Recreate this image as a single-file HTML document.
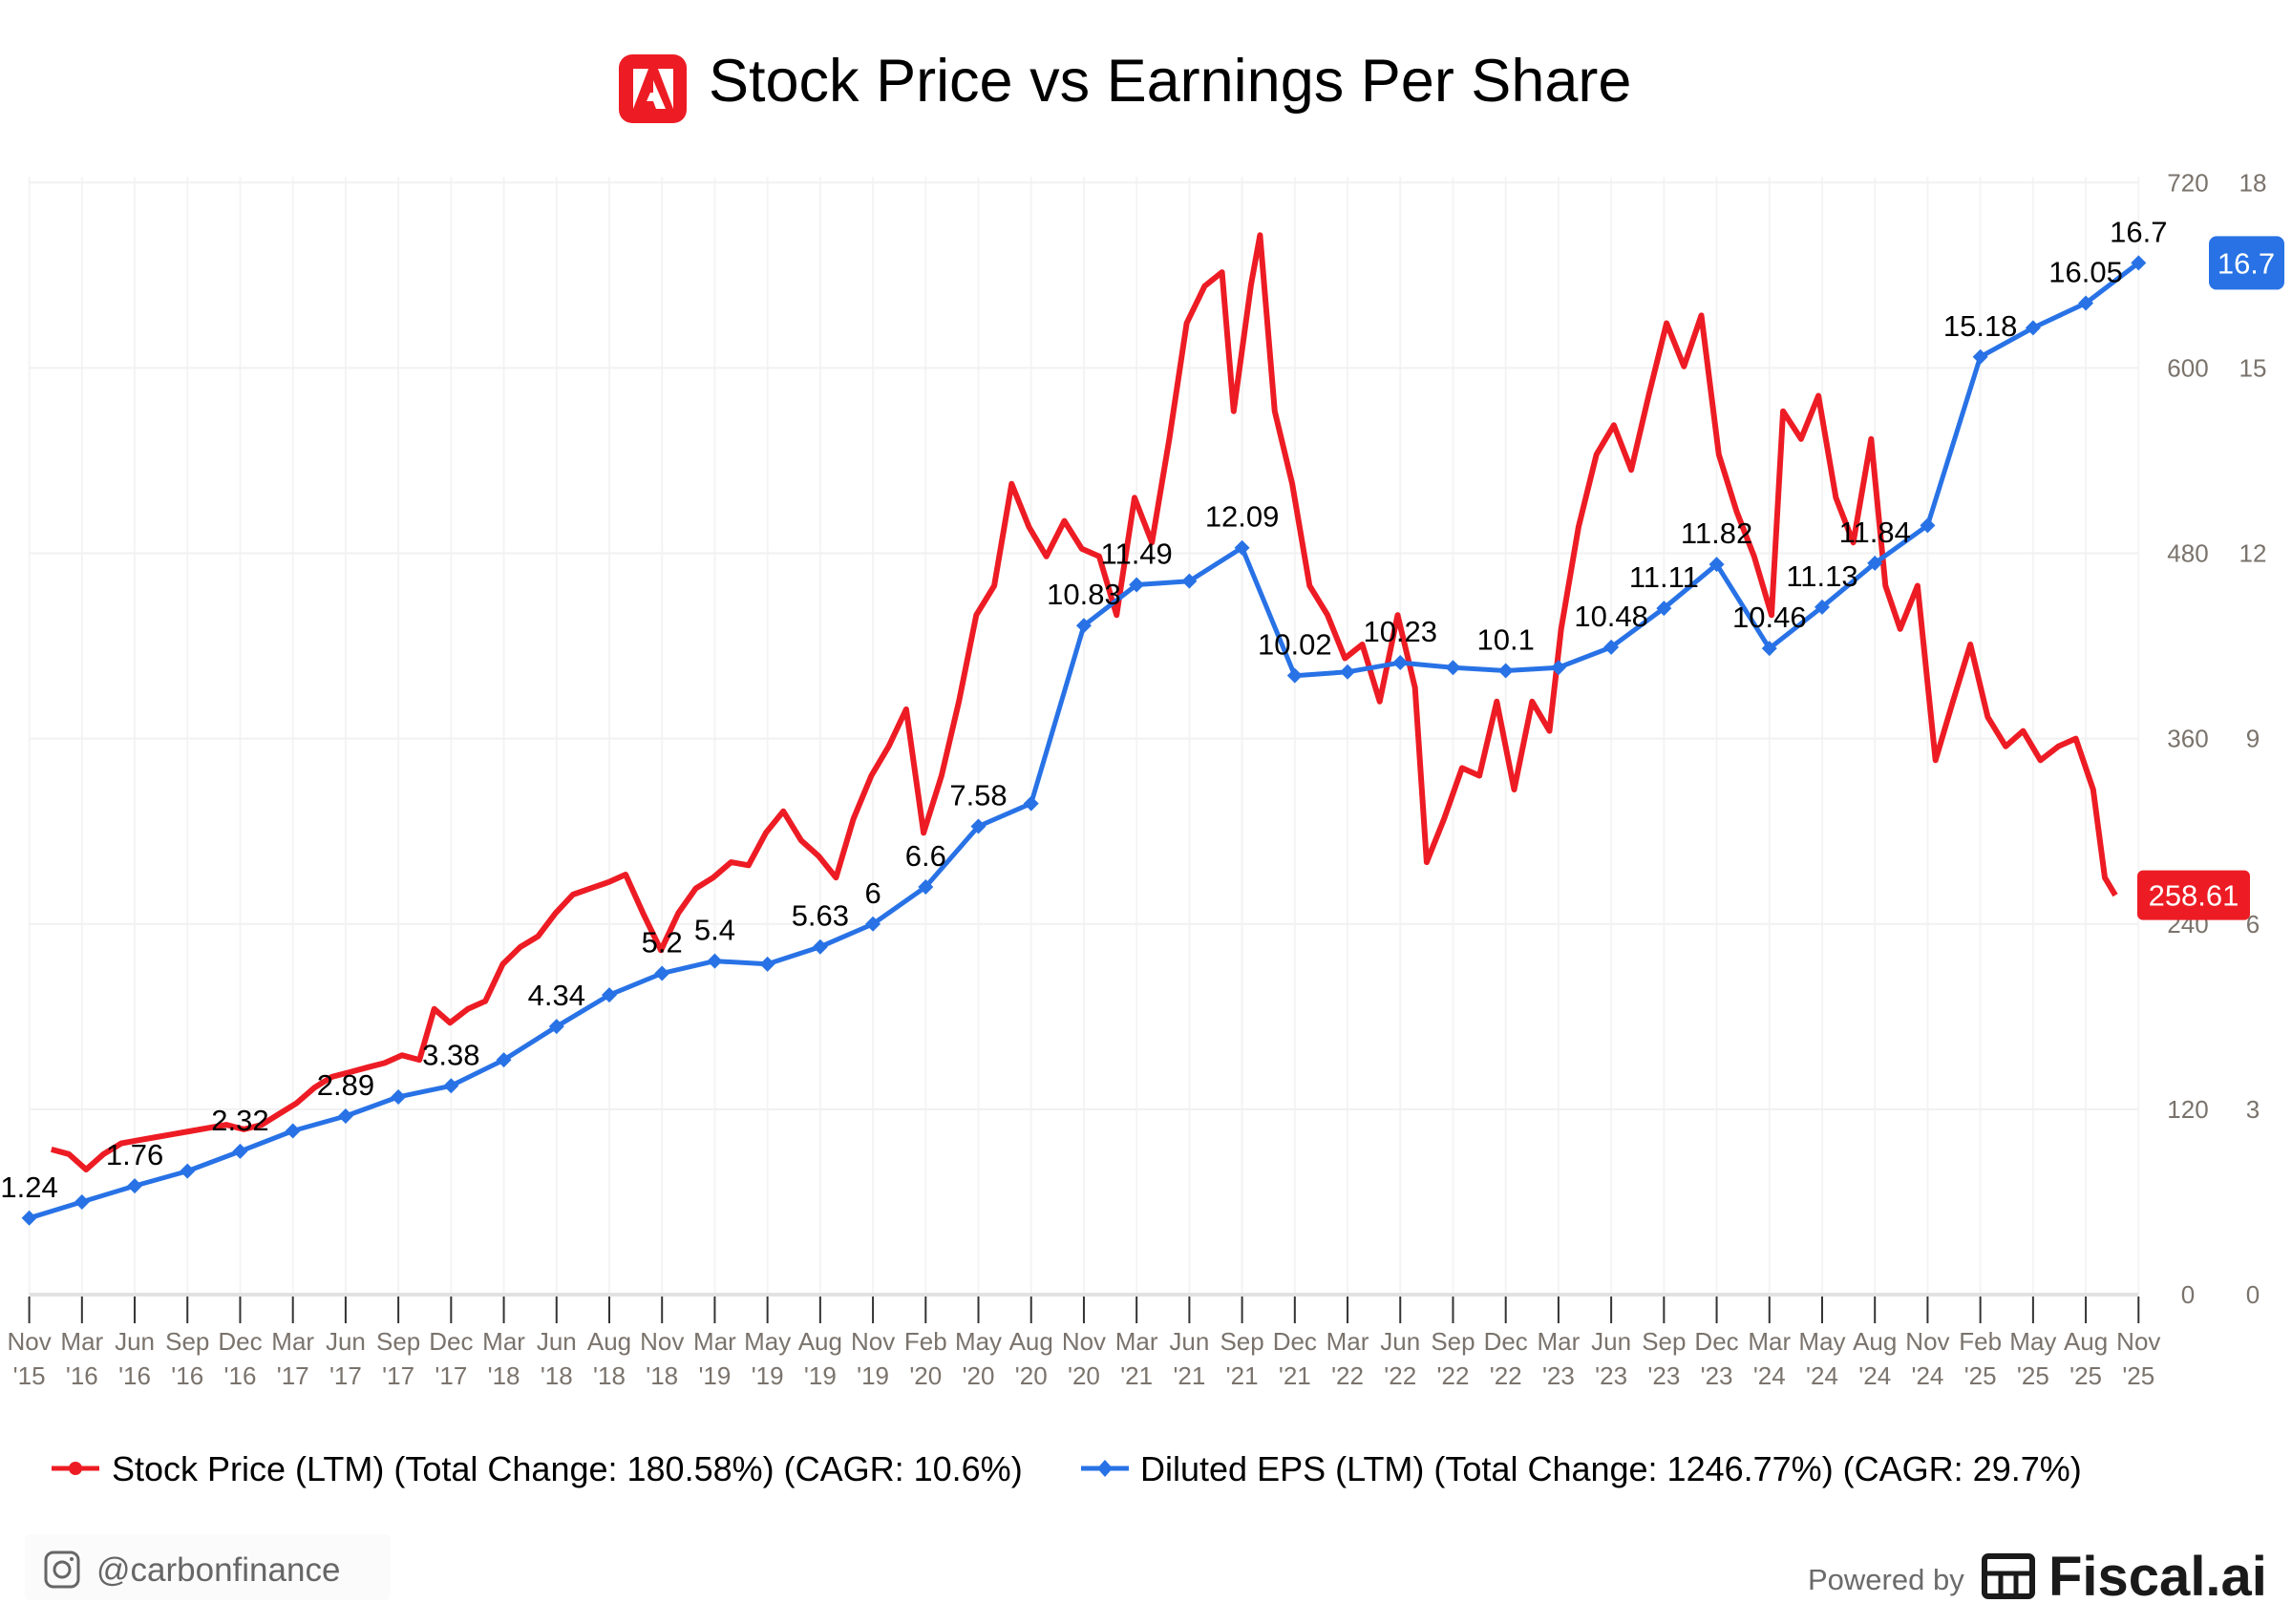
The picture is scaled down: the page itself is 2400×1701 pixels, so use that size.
<!DOCTYPE html>
<html><head><meta charset="utf-8">
<style>
html,body{margin:0;padding:0;background:#fff;}
body{width:2400px;height:1701px;overflow:hidden;font-family:"Liberation Sans",sans-serif;}
svg{display:block;}
</style></head>
<body>
<svg id="chart" width="2400" height="1701" viewBox="0 0 2400 1701" xmlns="http://www.w3.org/2000/svg">
  <g>
    <rect x="648" y="57" width="71" height="72" rx="14" fill="#ed1c24"/>
    <polygon points="663,72 679,72 663,114" fill="#fff"/>
    <polygon points="689,72 705,72 705,114" fill="#fff"/>
    <polygon points="684,84 697,114 687,114 684,106 677,106 681,97 684,97" fill="#fff"/>
    <text x="742" y="106" font-size="63" fill="#000" font-family="Liberation Sans, sans-serif">Stock Price vs Earnings Per Share</text>
  </g>
  <g id="grid"></g>
  <g id="axes"></g>
  <g id="series"></g>
  <g>
    <g>
      <line x1="54" y1="1538" x2="104" y2="1538" stroke="#ed1c24" stroke-width="5"/>
      <circle cx="79" cy="1538" r="7" fill="#ed1c24"/>
      <text x="117" y="1551" font-size="36" fill="#000">Stock Price (LTM) (Total Change: 180.58%) (CAGR: 10.6%)</text>
    </g>
    <g>
      <line x1="1132" y1="1538" x2="1182" y2="1538" stroke="#2872e6" stroke-width="5"/>
      <polygon points="1157,1529 1165,1538 1157,1547 1149,1538" fill="#2872e6"/>
      <text x="1194" y="1551" font-size="36" fill="#000">Diluted EPS (LTM) (Total Change: 1246.77%) (CAGR: 29.7%)</text>
    </g>
  </g>
  <g>
    <rect x="26" y="1607" width="383" height="69" rx="6" fill="#fbfbfb"/>
    <rect x="48" y="1626" width="34" height="36" rx="8" fill="none" stroke="#666" stroke-width="3"/>
    <circle cx="65" cy="1644" r="8" fill="none" stroke="#666" stroke-width="3"/>
    <circle cx="75" cy="1633" r="2" fill="#666"/>
    <text x="101" y="1656" font-size="35" fill="#666">@carbonfinance</text>
  </g>
  <g>
    <text x="1893" y="1665" font-size="31" fill="#6b6b6b">Powered by</text>
    <g>
      <rect x="2078" y="1630" width="50" height="42" rx="4" fill="none" stroke="#1a1a1a" stroke-width="6"/>
      <line x1="2078" y1="1648" x2="2128" y2="1648" stroke="#1a1a1a" stroke-width="5"/>
      <line x1="2095" y1="1648" x2="2095" y2="1672" stroke="#1a1a1a" stroke-width="5"/>
      <line x1="2111" y1="1648" x2="2111" y2="1672" stroke="#1a1a1a" stroke-width="5"/>
    </g>
    <text x="2145" y="1671" font-size="58" font-weight="bold" fill="#1a1a1a">Fiscal.ai</text>
  </g>
</svg>
<script>
// ---- data ----
const tickMonths = ["Nov","Mar","Jun","Sep","Dec","Mar","Jun","Sep","Dec","Mar","Jun","Aug","Nov","Mar","May","Aug","Nov","Feb","May","Aug","Nov","Mar","Jun","Sep","Dec","Mar","Jun","Sep","Dec","Mar","Jun","Sep","Dec","Mar","May","Aug","Nov","Feb","May","Aug","Nov"];
const tickYears = ["'15","'16","'16","'16","'16","'17","'17","'17","'17","'18","'18","'18","'18","'19","'19","'19","'19","'20","'20","'20","'20","'21","'21","'21","'21","'22","'22","'22","'22","'23","'23","'23","'23","'24","'24","'24","'24","'25","'25","'25","'25"];
const epsValues = [1.24,1.5,1.76,2.0,2.32,2.65,2.89,3.2,3.38,3.8,4.34,4.85,5.2,5.4,5.35,5.63,6,6.6,7.58,7.95,10.83,11.49,11.55,12.09,10.02,10.08,10.23,10.15,10.1,10.15,10.48,11.11,11.82,10.46,11.13,11.84,12.45,15.18,15.65,16.05,16.7];
const epsLabels = ["1.24","","1.76","","2.32","","2.89","","3.38","","4.34","","5.2","5.4","","5.63","6","6.6","7.58","","10.83","11.49","","12.09","10.02","","10.23","","10.1","","10.48","11.11","11.82","10.46","11.13","11.84","","15.18","","16.05","16.7"];
// price time in quarter-tick units along the category axis
const priceTime = [0.42,0.75,1.08,1.41,1.75,2.08,2.41,2.74,3.08,3.41,3.74,4.07,4.41,4.74,5.07,5.41,5.74,6.07,6.40,6.74,7.07,7.40,7.68,7.98,8.32,8.65,8.98,9.31,9.65,9.98,10.31,10.64,10.98,11.31,11.64,11.98,12.31,12.64,12.97,13.31,13.64,13.97,14.30,14.64,14.97,15.30,15.63,15.97,16.30,16.63,16.96,17.30,17.63,17.96,18.30,18.63,18.96,19.29,19.63,19.96,20.29,20.62,20.96,21.29,21.62,21.95,22.29,22.62,22.84,23.17,23.34,23.62,23.95,24.28,24.62,24.95,25.28,25.61,25.95,26.28,26.50,26.83,27.17,27.50,27.83,28.16,28.50,28.83,29.05,29.38,29.72,30.05,30.38,30.71,31.05,31.38,31.71,32.04,32.38,32.71,33.04,33.26,33.60,33.93,34.26,34.59,34.93,35.20,35.48,35.81,36.15,36.48,36.81,37.14,37.48,37.81,38.14,38.48,38.81,39.14,39.36,39.56];
const priceValues = [94,91,81,91,98,100,102,104,106,108,110,107,110,117,124,134,141,144,147,150,155,152,185,176,185,190,214,225,232,247,259,263,267,272,247,223,247,263,270,280,278,299,313,294,284,270,308,336,355,379,299,336,384,440,459,525,497,478,501,483,478,440,516,487,554,629,653,662,572,654,686,572,525,459,440,412,421,384,440,393,280,308,341,336,384,327,384,365,431,497,544,563,534,582,629,601,634,544,507,478,440,572,554,582,516,487,554,459,431,459,346,384,421,374,355,365,346,355,360,327,270,258.61];
const priceTicks = [0,120,240,360,480,600,720];
const epsTicks = [0,3,6,9,12,15,18];

// ---- scales ----
const X0 = 30.6, X1 = 2239.3, Y0 = 1356, Y1 = 191.3;
function xAt(t){ return X0 + t*(X1-X0)/(tickMonths.length-1); }
function yPrice(v){ return Y0 - v*(Y0-Y1)/720; }
function yEps(v){ return Y0 - v*(Y0-Y1)/18; }
const NS = "http://www.w3.org/2000/svg";
function mk(tag, attrs, parent){ const e=document.createElementNS(NS,tag); for(const k in attrs) e.setAttribute(k,attrs[k]); parent.appendChild(e); return e; }

const grid = document.getElementById('grid');
const axes = document.getElementById('axes');
const series = document.getElementById('series');

for (let i=0;i<tickMonths.length;i++){
  const x = xAt(i);
  const vg = mk('line',{x1:x,y1:Y1-6,x2:x,y2:Y0,stroke:'#f4f4f4','stroke-width':2},grid);
  
  
  const tk = mk('line',{x1:x,y1:Y0+2,x2:x,y2:Y0+30,stroke:'#333','stroke-width':2},axes);
  
  
  const m = mk('text',{x:x,y:1414,'font-size':26,fill:'#7a736c','text-anchor':'middle'},axes);
  m.textContent = tickMonths[i];
  
  
  const yr = mk('text',{x:x,y:1450,'font-size':26,fill:'#7a736c','text-anchor':'middle'},axes);
  yr.textContent = tickYears[i];
  
  
}
for (let j=0;j<priceTicks.length;j++){
  const y = yPrice(priceTicks[j]);
  const hg = mk('line',{x1:X0,y1:y,x2:X1,y2:y,stroke:j===0?'#e2e2e2':'#f1f1f1','stroke-width':j===0?4:2},grid);
  
  
  const pl = mk('text',{x:2291,y:y+9,'font-size':26,fill:'#7a736c','text-anchor':'middle'},axes);
  pl.textContent = priceTicks[j];
  
  
  const el = mk('text',{x:2359,y:y+9,'font-size':26,fill:'#7a736c','text-anchor':'middle'},axes);
  el.textContent = epsTicks[j];
  
  
}

let d='';
for (let i=0;i<priceValues.length;i++){ d += (i?'L':'M') + xAt(priceTime[i]).toFixed(1) + ',' + yPrice(priceValues[i]).toFixed(1); }
const pl = mk('path',{d:d,fill:'none',stroke:'#ed1c24','stroke-width':6,'stroke-linejoin':'round'},series);



let d2='';
for (let i=0;i<epsValues.length;i++){ d2 += (i?'L':'M') + xAt(i).toFixed(1) + ',' + yEps(epsValues[i]).toFixed(1); }
const el2 = mk('path',{d:d2,fill:'none',stroke:'#2872e6','stroke-width':5,'stroke-linejoin':'round'},series);


for (let i=0;i<epsValues.length;i++){
  const x=xAt(i), y=yEps(epsValues[i]);
  const p = mk('polygon',{points:`${x},${y-8} ${x+8},${y} ${x},${y+8} ${x-8},${y}`,fill:'#2872e6'},series);
  
  
  if (epsLabels[i]){
    const t = mk('text',{x:x,y:y-22,'font-size':31,fill:'#000','text-anchor':'middle'},series);
    t.textContent = epsLabels[i];
    
    
  }
}

const lastEps = epsValues[epsValues.length-1];
const lastPrice = priceValues[priceValues.length-1];
const bb = mk('rect',{x:2313,y:yEps(lastEps)-28,width:79,height:56,rx:8,fill:'#2872e6'},series);


const bt = mk('text',{x:2352,y:yEps(lastEps)+11,'font-size':31,fill:'#fff','text-anchor':'middle'},series);
bt.textContent = String(lastEps);


const rb = mk('rect',{x:2238,y:yPrice(lastPrice)-26,width:118,height:52,rx:6,fill:'#ed1c24'},series);


const rt = mk('text',{x:2297,y:yPrice(lastPrice)+11,'font-size':31,fill:'#fff','text-anchor':'middle'},series);
rt.textContent = String(lastPrice);


</script>
</body></html>
